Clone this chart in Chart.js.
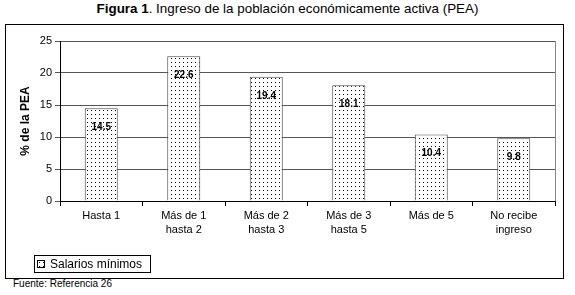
<!DOCTYPE html>
<html>
<head>
<meta charset="utf-8">
<script src="https://cdn.jsdelivr.net/npm/chart.js@4"></script>
<style>
  body { margin: 0; background: #fff; font-family: "Liberation Sans", Arial, sans-serif; }
  #page { position: relative; width: 575px; height: 295px; }
  #title { position: absolute; left: 0; top: 1px; width: 575px; text-align: center; font-size: 13.4px; color: #000; }
  #frame { position: absolute; left: 5px; top: 24px; width: 557px; height: 253px; border: 1px solid #000; }
  #source { position: absolute; left: 13px; top: 278px; font-size: 10px; color: #000; }
</style>
</head>
<body>
<div id="page">
  <div id="title"><b>Figura 1</b>. Ingreso de la población económicamente activa (PEA)</div>
  <div id="frame"><canvas id="chart" width="557" height="253"></canvas></div>
  <div id="source">Fuente: Referencia 26</div>
</div>
<script>
// categories and values
const categories = [
  "Hasta 1",
  ["Más de 1", "hasta 2"],
  ["Más de 2", "hasta 3"],
  ["Más de 3", "hasta 5"],
  "Más de 5",
  ["No recibe", "ingreso"]
];
const peaValues = [14.5, 22.6, 19.4, 18.1, 10.4, 9.8];
const seriesLabel = "Salarios mínimos";
const yTicks = [0, 5, 10, 15, 20, 25];

const canvas = document.getElementById("chart");
const ctx = canvas.getContext("2d");

// dotted fill like the original
function makeDotPattern() {
  const p = document.createElement("canvas");
  p.width = 4;
  p.height = 4;
  const pctx = p.getContext("2d");
  pctx.fillStyle = "#fff";
  pctx.fillRect(0, 0, 4, 4);
  pctx.fillStyle = "#000";
  pctx.fillRect(1, 1, 1, 1);
  return ctx.createPattern(p, "repeat");
}
const dots = makeDotPattern();

// value labels inside the top of each bar
const valueLabels = {
  id: "valueLabels",
  afterDatasetsDraw(chart) {
    const c = chart.ctx;
    const meta = chart.getDatasetMeta(0);
    c.save();
    c.font = "bold 10px 'Liberation Sans', Arial, sans-serif";
    c.fillStyle = "#000";
    c.textAlign = "center";
    c.textBaseline = "middle";
    meta.data.forEach((bar, i) => {
      c.fillText(peaValues[i].toFixed(1), bar.x, bar.y + 19);
    });
    c.restore();
  }
};

// right border of plot area + boxed legend at bottom left
const frameBits = {
  id: "frameBits",
  afterDraw(chart) {
    const c = chart.ctx;
    const a = chart.chartArea;
    c.save();
    c.strokeStyle = "#888";
    c.lineWidth = 1;
    c.beginPath();
    c.moveTo(a.right + 0.5, a.top);
    c.lineTo(a.right + 0.5, a.bottom);
    c.stroke();

    // legend box
    c.strokeStyle = "#000";
    c.strokeRect(28.5, 230.5, 116, 17);
    c.fillStyle = dots;
    c.fillRect(31, 235, 7, 7);
    c.strokeRect(31.5, 235.5, 7, 7);
    c.fillStyle = "#000";
    c.font = "12px 'Liberation Sans', Arial, sans-serif";
    c.textBaseline = "middle";
    c.fillText(chart.data.datasets[0].label, 44, 239.5);
    c.restore();
  }
};

new Chart(ctx, {
  type: "bar",
  data: {
    labels: categories,
    datasets: [{
      label: seriesLabel,
      data: peaValues,
      backgroundColor: dots,
      borderColor: "#444",
      borderWidth: 1,
      categoryPercentage: 1,
      barPercentage: 0.4
    }]
  },
  options: {
    responsive: false,
    animation: false,
    layout: { padding: { top: 16, right: 8, left: 0, bottom: 0 } },
    plugins: {
      legend: { display: false },
      tooltip: { enabled: false }
    },
    scales: {
      x: {
        afterFit(scale) { scale.height = 77; },
        grid: { offset: true, drawOnChartArea: false, tickLength: 5, color: "#000" },
        border: { color: "#000" },
        ticks: {
          padding: 3,
          maxRotation: 0,
          color: "#000",
          font: { family: "'Liberation Sans', Arial, sans-serif", size: 11, lineHeight: "14px" }
        }
      },
      y: {
        min: yTicks[0],
        max: yTicks[yTicks.length - 1],
        afterFit(scale) { scale.width = 54; },
        afterBuildTicks(scale) { scale.ticks = yTicks.map((v) => ({ value: v })); },
        grid: { tickLength: 5, color: "#555" },
        border: { color: "#000" },
        ticks: {
          padding: 3,
          color: "#000",
          font: { family: "'Liberation Sans', Arial, sans-serif", size: 11 }
        },
        title: {
          display: true,
          text: "% de la PEA",
          color: "#000",
          padding: { top: 12, bottom: 0 },
          font: { family: "'Liberation Sans', Arial, sans-serif", size: 12, weight: "bold" }
        }
      }
    }
  },
  plugins: [valueLabels, frameBits]
});
</script>
</body>
</html>
